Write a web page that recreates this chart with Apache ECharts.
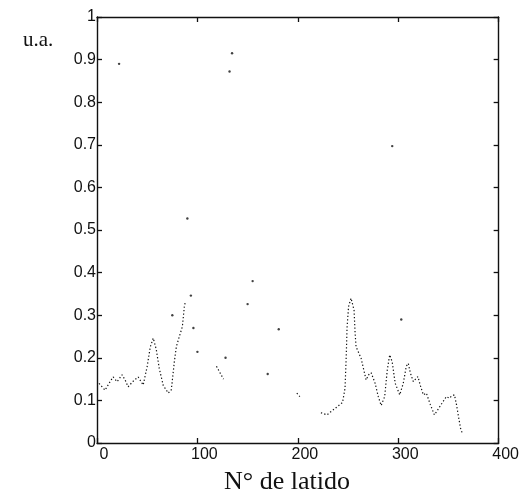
<!DOCTYPE html>
<html>
<head>
<meta charset="utf-8">
<script src="https://cdn.jsdelivr.net/npm/echarts@6/dist/echarts.min.js"></script>
<style>
  html, body { margin: 0; padding: 0; background: #fff; }
  #chart { width: 522px; height: 501px; }
</style>
</head>
<body>
<div id="chart"></div>
<script>
// Beat index vs. amplitude (u.a.); null marks a break in the dotted trace
const traceA = [
  [2, 0.14], [8, 0.124], [12, 0.14], [16, 0.155], [20, 0.144], [25, 0.16],
  [28, 0.148], [31, 0.132], [36, 0.145], [41, 0.155], [46, 0.136], [50, 0.18],
  [53, 0.225], [56, 0.246], [59, 0.22], [62, 0.175], [66, 0.135], [71, 0.117],
  [74, 0.125], [77, 0.19], [79, 0.226], [82, 0.25], [85, 0.273], [87, 0.32],
  [88, 0.332]
];
const traceB = [[119, 0.18], [122, 0.167], [126, 0.15]];
const traceC = [[199, 0.117], [202, 0.109]];
const traceD = [
  [223, 0.071], [229, 0.066], [237, 0.081], [244.5, 0.095], [247, 0.128],
  [248, 0.19], [248.5, 0.226], [249, 0.27], [250.5, 0.32], [253, 0.34],
  [256, 0.312], [257, 0.26], [258, 0.226], [263, 0.199], [268, 0.148],
  [271, 0.162], [273, 0.165], [277, 0.14], [280, 0.11], [283, 0.088],
  [286.5, 0.109], [289, 0.17], [291.5, 0.207], [294, 0.19], [297, 0.14],
  [301.5, 0.113], [305, 0.14], [308, 0.18], [310, 0.187], [312, 0.165],
  [315, 0.144], [319.6, 0.156], [322, 0.135], [325, 0.113], [328, 0.117],
  [332, 0.09], [336, 0.066], [340, 0.08], [344, 0.095], [348, 0.109],
  [351, 0.105], [353, 0.11], [356, 0.113], [358, 0.09], [360, 0.062],
  [362, 0.035], [364, 0.021]
];
// Isolated beats off the continuous trace
const isolated = [
  [22, 0.89], [75, 0.30], [90, 0.527], [93.5, 0.346], [96, 0.27], [100, 0.214],
  [128, 0.2], [132, 0.872], [134.5, 0.915], [150, 0.326], [155, 0.38],
  [170, 0.162], [181, 0.267], [294, 0.697], [303, 0.29]
];

const xTickLabels = ['0', '100', '200', '300', '400'];
const yTickLabels = ['0', '0.1', '0.2', '0.3', '0.4', '0.5', '0.6', '0.7', '0.8', '0.9', '1'];

const trace = [].concat(traceA, [[null, null]], traceB, [[null, null]], traceC, [[null, null]], traceD);

const chart = echarts.init(document.getElementById('chart'), null, { renderer: 'canvas' });

const axisLine = { show: true, onZero: false, lineStyle: { color: '#111', width: 1.4 } };
const tick = { show: true, inside: true, length: 5, lineStyle: { color: '#111', width: 1.3 } };
const tickFont = { fontFamily: 'Liberation Sans, Arial, sans-serif', fontSize: 16, color: '#111' };

chart.setOption({
  animation: false,
  backgroundColor: '#fff',
  grid: { left: 97, right: 23, top: 17, bottom: 58, show: false },
  xAxis: [
    {
      type: 'value', min: 0, max: 400, interval: 100, position: 'bottom',
      axisLine, axisTick: tick, splitLine: { show: false },
      axisLabel: Object.assign({ margin: 4, padding: [0, 0, 0, 14], formatter: (v, i) => xTickLabels[i] }, tickFont)
    },
    {
      type: 'value', min: 0, max: 400, interval: 100, position: 'top',
      axisLine, axisTick: tick, splitLine: { show: false }, axisLabel: { show: false }
    }
  ],
  yAxis: [
    {
      type: 'value', min: 0, max: 1, interval: 0.1, position: 'left',
      axisLine, axisTick: tick, splitLine: { show: false },
      axisLabel: Object.assign({ margin: 1, formatter: (v, i) => yTickLabels[i] }, tickFont)
    },
    {
      type: 'value', min: 0, max: 1, interval: 0.1, position: 'right',
      axisLine, axisTick: tick, splitLine: { show: false }, axisLabel: { show: false }
    }
  ],
  graphic: [
    {
      type: 'text', left: 23, top: 30,
      style: { text: 'u.a.', font: '21px "Liberation Serif", "Times New Roman", serif', fill: '#111' }
    },
    {
      type: 'text', left: 224, top: 469,
      style: { text: 'N° de latido', font: '26px "Liberation Serif", "Times New Roman", serif', fill: '#111' }
    }
  ],
  series: [
    {
      type: 'line', data: trace, showSymbol: false, connectNulls: false,
      lineStyle: { color: '#111', width: 1.2, type: [1.3, 2.2] }
    },
    {
      type: 'scatter', data: isolated, symbol: 'circle', symbolSize: 2.4,
      itemStyle: { color: '#111' }
    }
  ]
});
</script>
</body>
</html>
